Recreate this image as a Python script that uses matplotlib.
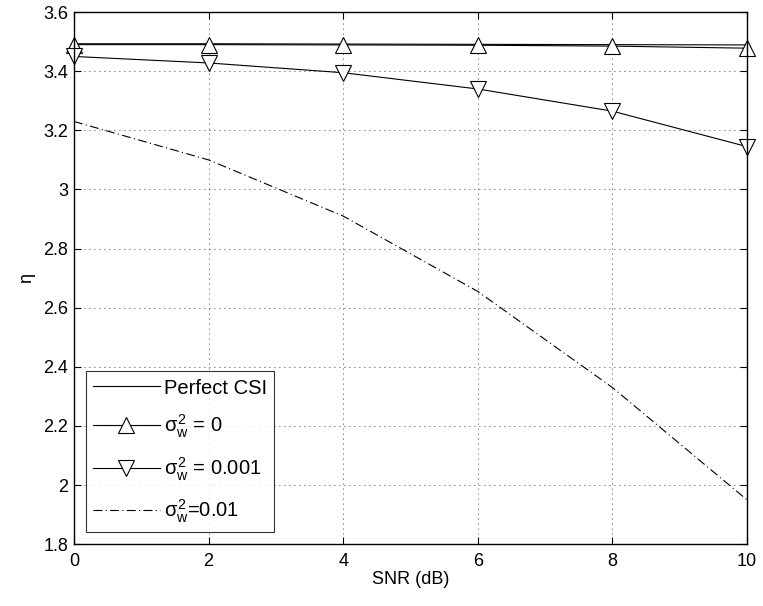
"""Spectral efficiency vs SNR for different channel estimation error variances."""
import matplotlib
matplotlib.use("Agg")
import matplotlib.pyplot as plt

plt.rcParams["font.family"] = ["Liberation Sans", "DejaVu Sans"]
plt.rcParams["mathtext.fontset"] = "custom"
plt.rcParams["mathtext.rm"] = "Liberation Sans"
plt.rcParams["mathtext.it"] = "Liberation Sans"

snr_db = [0, 2, 4, 6, 8, 10]
eta_perfect = [3.493, 3.493, 3.492, 3.491, 3.490, 3.489]
eta_sigma_0 = [3.490, 3.490, 3.489, 3.488, 3.485, 3.478]
eta_sigma_001 = [3.450, 3.428, 3.395, 3.340, 3.265, 3.145]
eta_sigma_01 = [3.230, 3.100, 2.910, 2.655, 2.330, 1.950]

fig = plt.figure(figsize=(7.63, 6.06), dpi=100)
ax = fig.add_axes([0.097, 0.102, 0.882, 0.878])

ax.plot(snr_db, eta_perfect, color="black", lw=0.8, label="Perfect CSI")
ax.plot(snr_db, eta_sigma_0, color="black", lw=0.8, marker="^", ms=11,
        mfc="white", mec="black", mew=0.8, clip_on=False, label=r"$\sigma_w^2$ = 0")
ax.plot(snr_db, eta_sigma_001, color="black", lw=0.8, marker="v", ms=11,
        mfc="white", mec="black", mew=0.8, clip_on=False, label=r"$\sigma_w^2$ = 0.001")
ax.plot(snr_db, eta_sigma_01, color="black", lw=0.8, ls=(0, (8, 3, 1, 3)),
        label=r"$\sigma_w^2$=0.01")

ax.set_xlim(0, 10)
ax.set_ylim(1.8, 3.6)
ax.set_xticks([0, 2, 4, 6, 8, 10])
ax.set_yticks([1.8, 2, 2.2, 2.4, 2.6, 2.8, 3, 3.2, 3.4, 3.6])
ax.set_yticklabels(["1.8", "2", "2.2", "2.4", "2.6", "2.8", "3", "3.2", "3.4", "3.6"])
ax.tick_params(direction="in", top=True, right=True, labelsize=13, length=5)
ax.tick_params(axis="x", pad=6)
ax.tick_params(axis="y", pad=4)
ax.grid(True, color="black", ls=(0, (1, 5)), lw=0.6)
for s in ax.spines.values():
    s.set_linewidth(1.0)

ax.set_xlabel("SNR (dB)", fontsize=13, labelpad=1)
ax.set_ylabel(r"$\eta$", fontsize=13, labelpad=4)

leg = ax.legend(loc="lower left", bbox_to_anchor=(0.0, 0.0), fontsize=14.5,
                frameon=True, fancybox=False, edgecolor="black",
                handlelength=3.3, borderpad=0.35, labelspacing=0.75,
                handletextpad=0.2, borderaxespad=0.6)
leg.get_frame().set_linewidth(0.8)

fig.savefig("out.png", dpi=100)
